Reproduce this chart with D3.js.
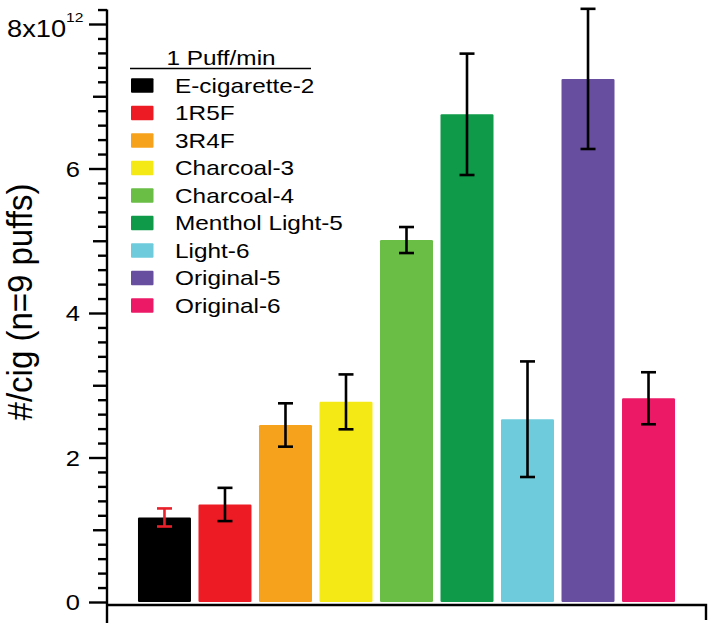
<!DOCTYPE html>
<html>
<head>
<meta charset="utf-8">
<script src="https://cdn.jsdelivr.net/npm/d3@7"></script>
<style>
  html, body { margin: 0; padding: 0; background: #fff; }
  svg { display: block; font-family: "Liberation Sans", Arial, sans-serif; }
</style>
</head>
<body>
<svg id="chart" width="714" height="632"></svg>
<script>
// ---- data (values in units of 1e12 per cigarette) ----
const categories = ["E-cigarette-2", "1R5F", "3R4F", "Charcoal-3", "Charcoal-4",
                    "Menthol Light-5", "Light-6", "Original-5", "Original-6"];
const values = [1.17, 1.35, 2.45, 2.77, 5.01, 6.75, 2.53, 7.24, 2.82];
const errors = [0.125, 0.23, 0.30, 0.38, 0.18, 0.84, 0.80, 0.97, 0.36];
const colors = ["#000000", "#ed1c24", "#f7a21c", "#f5e915", "#6abd45",
                "#0e9a49", "#6ecbdc", "#674e9f", "#ec1a66"];
const errColors = ["#e8202a", "#000", "#000", "#000", "#000", "#000", "#000", "#000", "#000"];
const majorTicks = [0, 2, 4, 6, 8];
const midTicks = [1, 3, 5, 7];
const legendTitle = "1 Puff/min";
const yTitle = "#/cig (n=9 puffs)";

// ---- layout ----
const svg = d3.select("#chart");
const SX = 1.16; // horizontal glyph stretch seen in the reference
const axisX = 107, axisBottomY = 605, plotRight = 706;

const y = d3.scaleLinear().domain([0, 8]).range([602, 24]);
const x = d3.scaleBand().domain(categories).range([axisX, plotRight])
  .paddingInner(0.124).paddingOuter(0.512);

// bars
svg.append("g").selectAll("rect").data(categories).join("rect")
  .attr("x", d => x(d))
  .attr("width", x.bandwidth())
  .attr("y", (d, i) => y(values[i]))
  .attr("height", (d, i) => y(0) - y(values[i]))
  .attr("rx", 1.2)
  .attr("fill", (d, i) => colors[i]);

// error bars
const eb = svg.append("g").selectAll("g").data(categories).join("g")
  .attr("stroke", (d, i) => errColors[i])
  .attr("stroke-width", 2.6);
eb.append("line")
  .attr("x1", d => x(d) + x.bandwidth() / 2).attr("x2", d => x(d) + x.bandwidth() / 2)
  .attr("y1", (d, i) => y(values[i] + errors[i])).attr("y2", (d, i) => y(values[i] - errors[i]));
eb.append("line")
  .attr("x1", d => x(d) + x.bandwidth() / 2 - 7.5).attr("x2", d => x(d) + x.bandwidth() / 2 + 7.5)
  .attr("y1", (d, i) => y(values[i] + errors[i])).attr("y2", (d, i) => y(values[i] + errors[i]));
eb.append("line")
  .attr("x1", d => x(d) + x.bandwidth() / 2 - 7.5).attr("x2", d => x(d) + x.bandwidth() / 2 + 7.5)
  .attr("y1", (d, i) => y(values[i] - errors[i])).attr("y2", (d, i) => y(values[i] - errors[i]));

// y axis: minor, mid, major ticks
const minorTicks = d3.range(0, 41).map(k => k * 0.2).filter(v => Math.abs(v - Math.round(v)) > 1e-6);
minorTicks.push(8.2);
function tickAxis(vals, size) {
  const g = svg.append("g").attr("transform", `translate(${axisX},0)`)
    .call(d3.axisLeft(y).tickValues(vals).tickSize(size).tickFormat(""));
  g.select(".domain").remove();
  g.selectAll("line").attr("stroke", "#000").attr("stroke-width", 2.4);
  return g;
}
tickAxis(minorTicks, 9);
tickAxis(midTicks, 14);
tickAxis(majorTicks, 18);

// y axis line (extends below x-axis)
svg.append("line").attr("x1", axisX).attr("x2", axisX)
  .attr("y1", y(8.2)).attr("y2", 623)
  .attr("stroke", "#000").attr("stroke-width", 2.4);
// x axis line with end tick
svg.append("path")
  .attr("d", `M${axisX},${axisBottomY}H${plotRight}V620`)
  .attr("fill", "none").attr("stroke", "#000").attr("stroke-width", 2.4);

// tick labels
const lab = svg.append("g").selectAll("text").data(majorTicks).join("text")
  .attr("transform", d => `translate(80,${y(d) + 8}) scale(${SX},1)`)
  .attr("text-anchor", "end")
  .attr("font-size", 22)
  .attr("fill", "#000");
lab.each(function (d) {
  const t = d3.select(this);
  if (d === 8) {
    t.attr("transform", `translate(7,${y(d) + 12.8}) scale(${SX},1)`)
      .attr("text-anchor", "start").attr("font-size", 23.5);
    t.append("tspan").text("8x10");
    t.append("tspan").attr("font-size", 13.5).attr("dy", -15).text("12");
  } else {
    t.text(d);
  }
});

// y title
svg.append("text")
  .attr("transform", `translate(32,302) rotate(-90) scale(1,1.05)`)
  .attr("text-anchor", "middle")
  .attr("font-size", 33)
  .attr("fill", "#000")
  .text(yTitle);

// legend
const leg = svg.append("g");
leg.append("text")
  .attr("transform", `translate(221,65) scale(${SX},1)`)
  .attr("text-anchor", "middle").attr("font-size", 21).text(legendTitle);
leg.append("line").attr("x1", 130).attr("x2", 311).attr("y1", 68.5).attr("y2", 68.5)
  .attr("stroke", "#000").attr("stroke-width", 1.6);
const rowY = i => 85.5 + i * 27.5;
leg.selectAll("rect").data(categories).join("rect")
  .attr("x", 131).attr("width", 22.5)
  .attr("y", (d, i) => rowY(i) - 7.3).attr("height", 14.6)
  .attr("rx", 1)
  .attr("fill", (d, i) => colors[i]);
leg.selectAll("text.item").data(categories).join("text")
  .attr("class", "item")
  .attr("transform", (d, i) => `translate(175,${rowY(i) + 7.3}) scale(${SX},1)`)
  .attr("font-size", 21).attr("fill", "#000")
  .text(d => d);
</script>
</body>
</html>
